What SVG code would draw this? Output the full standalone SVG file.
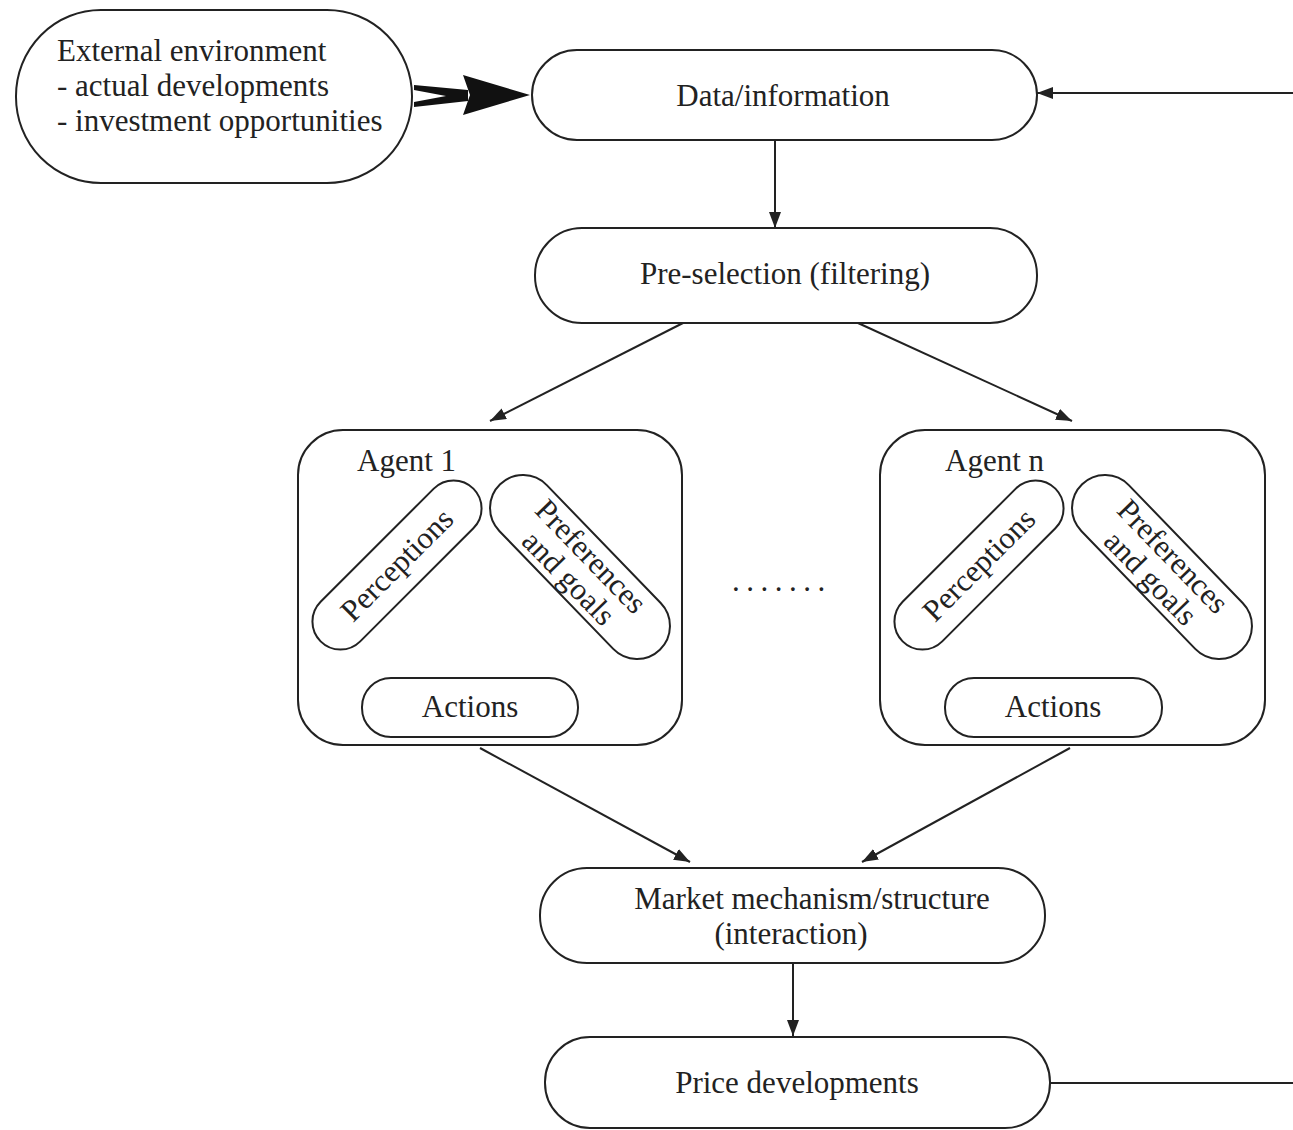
<svg xmlns="http://www.w3.org/2000/svg" width="1293" height="1130" viewBox="0 0 1293 1130">
<style>
.box{fill:#fff;stroke:#222;stroke-width:2}
.t{font-family:"Liberation Serif","Times New Roman",serif;font-size:31px;fill:#222}
.c{text-anchor:middle}
.ln{stroke:#222;stroke-width:2;fill:none}
</style>
<defs>
<marker id="ah" viewBox="0 0 16 12" refX="16" refY="6" markerWidth="16" markerHeight="12" markerUnits="userSpaceOnUse" orient="auto">
<path d="M0,0 L16,6 L0,12 Z" fill="#222"/>
</marker>
</defs>
<rect width="1293" height="1130" fill="#fff"/>
<g id="connectors">
<path d="M414,85 L468,90 L468,101 L414,107 L414,102 L446,96 L414,90 Z" fill="#111"/>
<path d="M463,75 L530,95 L463,115 L470,95 Z" fill="#111"/>
<line class="ln" x1="1293" y1="93" x2="1037" y2="93" marker-end="url(#ah)"/>
<line class="ln" x1="775" y1="140" x2="775" y2="228" marker-end="url(#ah)"/>
<line class="ln" x1="683" y1="323" x2="490" y2="421" marker-end="url(#ah)"/>
<line class="ln" x1="858" y1="323" x2="1072" y2="421" marker-end="url(#ah)"/>
<line class="ln" x1="420" y1="580" x2="460" y2="677" marker-end="url(#ah)"/>
<line class="ln" x1="540" y1="585" x2="494" y2="677" marker-end="url(#ah)"/>
<line class="ln" x1="1003" y1="580" x2="1040" y2="677" marker-end="url(#ah)"/>
<line class="ln" x1="1122" y1="585" x2="1078" y2="677" marker-end="url(#ah)"/>
<line class="ln" x1="480" y1="748" x2="690" y2="862" marker-end="url(#ah)"/>
<line class="ln" x1="1070" y1="748" x2="862" y2="862" marker-end="url(#ah)"/>
<line class="ln" x1="793" y1="963" x2="793" y2="1036" marker-end="url(#ah)"/>
<line class="ln" x1="1050" y1="1083" x2="1293" y2="1083"/>
</g>
<g id="external">
<rect class="box" x="16" y="10" width="396" height="173" rx="85" ry="86"/>
<text class="t" x="57" y="61">External environment</text>
<text class="t" x="57" y="96">- actual developments</text>
<text class="t" x="57" y="131">- investment opportunities</text>
</g>
<g id="data">
<rect class="box" x="532" y="50" width="505" height="90" rx="45"/>
<text class="t c" x="783" y="106">Data/information</text>
</g>
<g id="preselection">
<rect class="box" x="535" y="228" width="502" height="95" rx="47"/>
<text class="t c" x="785" y="284">Pre-selection (filtering)</text>
</g>
<g id="agent1">
<rect class="box" x="298" y="430" width="384" height="315" rx="45"/>
<text class="t" x="357" y="471">Agent 1</text>
<g transform="translate(397,565) rotate(-45)">
<rect class="box" x="-108" y="-28" width="216" height="56" rx="28"/>
<text class="t c" x="0" y="10">Perceptions</text>
</g>
<g transform="translate(580,567) rotate(46)">
<rect class="box" x="-115" y="-33" width="230" height="66" rx="33"/>
<text class="t c" x="0" y="-5">Preferences</text>
<text class="t c" x="0" y="26">and goals</text>
</g>
<rect class="box" x="362" y="678" width="216" height="59" rx="29"/>
<text class="t c" x="470" y="717">Actions</text>
</g>
<g id="dots">
<text class="t" x="732" y="591" letter-spacing="6.5">.......</text>
</g>
<g id="agentn">
<rect class="box" x="880" y="430" width="385" height="315" rx="45"/>
<text class="t" x="945" y="471">Agent n</text>
<g transform="translate(979,565) rotate(-45)">
<rect class="box" x="-108" y="-28" width="216" height="56" rx="28"/>
<text class="t c" x="0" y="10">Perceptions</text>
</g>
<g transform="translate(1162,567) rotate(46)">
<rect class="box" x="-115" y="-33" width="230" height="66" rx="33"/>
<text class="t c" x="0" y="-5">Preferences</text>
<text class="t c" x="0" y="26">and goals</text>
</g>
<rect class="box" x="945" y="678" width="217" height="59" rx="29"/>
<text class="t c" x="1053" y="717">Actions</text>
</g>
<g id="market">
<rect class="box" x="540" y="868" width="505" height="95" rx="47"/>
<text class="t c" x="812" y="909">Market mechanism/structure</text>
<text class="t c" x="791" y="944">(interaction)</text>
</g>
<g id="price">
<rect class="box" x="545" y="1037" width="505" height="91" rx="45"/>
<text class="t c" x="797" y="1093">Price developments</text>
</g>
</svg>
